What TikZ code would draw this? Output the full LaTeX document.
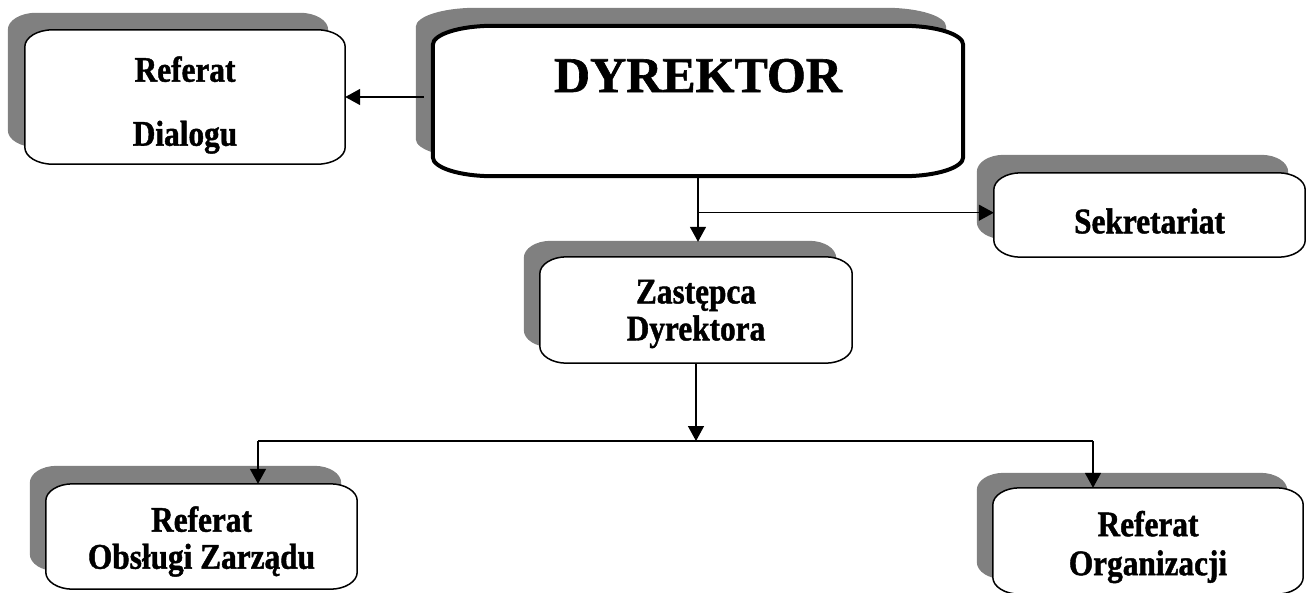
\documentclass[tikz,border=0pt]{standalone}
\usepackage{fontspec}
\setmainfont{Liberation Serif}
\newfontfamily\lblfont[FakeStretch=0.87,BoldFeatures={FakeBold=1.2}]{Liberation Serif}
\newfontfamily\bigfont[BoldFeatures={FakeBold=1.2}]{Liberation Serif}
\usetikzlibrary{arrows.meta,calc}
\definecolor{shadowgray}{HTML}{808080}
\tikzset{
  boxnode/.style={rectangle, inner sep=0pt, align=center,
    font=\lblfont\bfseries\fontsize{36}{37}\selectfont},
  conn/.style={line width=1.5pt, black},
  arr/.style={conn, -{Triangle[length=15pt,width=16pt]}},
  boxline/.style={line width=1.5pt, draw=black, fill=white},
  boxthick/.style={line width=4pt, draw=black, fill=white},
  shadowfill/.style={fill=shadowgray}
}
% elliptical-cornered outline around node #2, radii #3,#4 (pt), shifted by #5, style #1
\newcommand\ellpath[5]{%
  \path[#1] let \p1=($(#2.south west)+(#5)$), \p2=($(#2.north east)+(#5)$) in
    (\x1+#3pt,\y1) -- (\x2-#3pt,\y1)
    arc[start angle=270,end angle=360,x radius=#3pt,y radius=#4pt]
    -- (\x2,\y2-#4pt)
    arc[start angle=0,end angle=90,x radius=#3pt,y radius=#4pt]
    -- (\x1+#3pt,\y2)
    arc[start angle=90,end angle=180,x radius=#3pt,y radius=#4pt]
    -- (\x1,\y1+#4pt)
    arc[start angle=180,end angle=270,x radius=#3pt,y radius=#4pt]
    -- cycle;}
\begin{document}
\begin{tikzpicture}[x=1pt,y=-1pt]
\useasboundingbox (0,0) rectangle (1306,592);
\path
  (185,97)    coordinate (dialc)
  (698,101)   coordinate (dyrc)
  (1149.5,215) coordinate (sekc)
  (696,310)   coordinate (zasc)
  (201.5,536.5) coordinate (obsc)
  (1148,541) coordinate (orgc);
\node[boxnode, minimum width=320pt, minimum height=134pt] (dial) at (dialc) {};
\node[boxnode, minimum width=530pt, minimum height=150pt] (dyr) at (dyrc) {};
\node[boxnode, minimum width=311pt, minimum height=84pt] (sek) at (sekc) {};
\node[boxnode, minimum width=312pt, minimum height=106pt] (zas) at (zasc) {};
\node[boxnode, minimum width=311pt, minimum height=105pt] (obs) at (obsc) {};
\node[boxnode, minimum width=310pt, minimum height=106pt] (org) at (orgc) {};
% shadows
\ellpath{shadowfill}{dial}{28}{17}{-17pt,17pt}
\ellpath{shadowfill}{dyr}{60}{19}{-17pt,18pt}
\ellpath{shadowfill}{sek}{27}{17}{-17pt,18pt}
\ellpath{shadowfill}{zas}{27}{17}{-16pt,16pt}
\ellpath{shadowfill}{obs}{27}{17}{-16pt,18pt}
\ellpath{shadowfill}{org}{27}{17}{-16pt,15pt}
% boxes
\ellpath{boxline}{dial}{28}{17}{0pt,0pt}
\ellpath{boxthick}{dyr}{60}{19}{0pt,0pt}
\ellpath{boxline}{sek}{27}{17}{0pt,0pt}
\ellpath{boxline}{zas}{27}{17}{0pt,0pt}
\ellpath{boxline}{obs}{27}{17}{0pt,0pt}
\ellpath{boxline}{org}{27}{17}{0pt,0pt}
% texts
\node[boxnode, yshift=-8pt] at (dial) {Referat\\[27pt]Dialogu};
\node[font=\bigfont\bfseries\fontsize{50}{52}\selectfont, inner sep=0pt,
      text height=35pt, text depth=51pt, yshift=1pt] at (dyr) {DYREKTOR};
\node[boxnode, yshift=-6pt] at (sek) {Sekretariat};
\node[boxnode, yshift=-4pt] at (zas) {Zastępca\\Dyrektora};
\node[boxnode, yshift=-5pt] at (obs) {Referat\\Obsługi Zarządu};
\node[boxnode, yshift=-6pt] at (org) {Referat\\[2pt]Organizacji};
% connectors
\coordinate (dl) at ([xshift=-9pt]dyr.west |- 0,97);
\draw[arr] (dl) -- (dl -| dial.east);
\coordinate (br) at (dyr.south |- 0,212.7);
\draw[arr] (dyr.south) -- ([yshift=15pt]zas.north -| dyr.south);
\draw[conn] (br) -- (br -| sek.west);
\draw[arr] ([xshift=-16pt]br -| sek.west) -- (br -| sek.west);
\coordinate (jl) at (258,441);
\coordinate (jr) at (1093,441);
\coordinate (jm) at (zas.south |- jl);
\draw[arr] (zas.south) -- (jm);
\draw[conn] (jl) -- (jr);
\draw[arr] (jl) -- (jl |- obs.north);
\draw[arr] (jr) -- (jr |- org.north);
\end{tikzpicture}
\end{document}
